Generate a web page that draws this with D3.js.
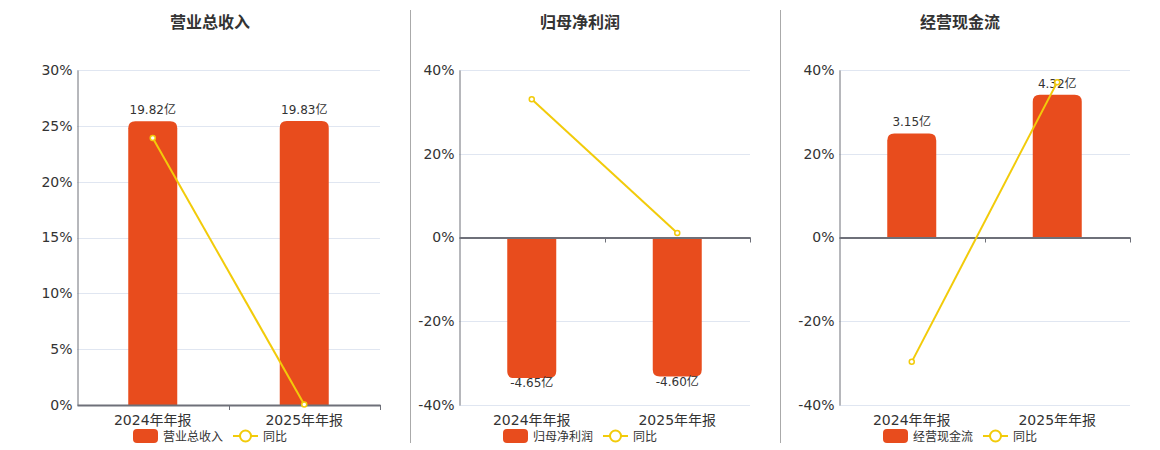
<!DOCTYPE html>
<html>
<head>
<meta charset="utf-8">
<script src="https://cdn.jsdelivr.net/npm/d3@7"></script>
<style>
  body { margin: 0; background: #fff; }
  text { font-family: "DejaVu Sans", "Noto Sans CJK SC", sans-serif; }
</style>
</head>
<body>
<div id="chart-area"></div>
<script>
// data
var categories = ["2024年年报", "2025年年报"];
var titles = ["营业总收入", "归母净利润", "经营现金流"];
var barValues = [[19.82, 19.83], [-4.65, -4.60], [3.15, 4.32]];
var yoyValues = [[23.9, 0.05], [33.0, 1.1], [-29.7, 37.1]];
var pctTicks = [[0, 5, 10, 15, 20, 25, 30], [-40, -20, 0, 20, 40], [-40, -20, 0, 20, 40]];
var barAxisMax = [23.4, 5.54, 5.07];
var lineName = "同比";

var width = 1160;
var height = 450;
var barColor = "#e84c1d";
var lineColor = "#f2cb0a";

// per panel layout
var panels = [
    {cx: 210, left: 77, right: 380},
    {cx: 580, left: 459, right: 750},
    {cx: 960, left: 839, right: 1130}
];
var plotTop = 70, plotBottom = 405;

var svg = d3.select('#chart-area')
    .append('svg')
        .attr('width', width)
        .attr('height', height);

// separators
[410.5, 780.5].forEach(function (x) {
    svg.append("line")
        .attr("x1", x).attr("x2", x)
        .attr("y1", 10).attr("y2", 443)
        .attr("stroke", "#aaa")
        .attr("stroke-width", 1);
});

// path for a bar rounded on the far end from zero
function barPath(x, w, y0, y1, r) {
    var up = y1 < y0;
    var h = Math.abs(y1 - y0);
    r = Math.min(r, h / 2, w / 2);
    var s = up ? 1 : -1;
    return "M" + x + "," + y0 + "V" + (y1 + s * r) +
        "Q" + x + "," + y1 + " " + (x + r) + "," + y1 +
        "H" + (x + w - r) +
        "Q" + (x + w) + "," + y1 + " " + (x + w) + "," + (y1 + s * r) +
        "V" + y0 + "Z";
}

panels.forEach(function (p, i) {
    var g = svg.append("g");
    var ticks = pctTicks[i];
    var ymin = d3.min(ticks), ymax = d3.max(ticks);

    var x = d3.scaleBand()
        .domain(categories)
        .range([p.left, p.right]);

    var y = d3.scaleLinear()
        .domain([ymin, ymax])
        .range([plotBottom, plotTop]);

    var yb = d3.scaleLinear()
        .domain([ymin < 0 ? -barAxisMax[i] : 0, barAxisMax[i]])
        .range([plotBottom, plotTop]);

    // title
    g.append("text")
        .attr("x", p.cx)
        .attr("y", 28)
        .attr("text-anchor", "middle")
        .attr("font-size", "16px")
        .attr("font-weight", "bold")
        .attr("fill", "#333")
        .text(titles[i]);

    // grid
    g.selectAll(".grid").data(ticks).enter()
        .append("line")
        .attr("x1", p.left).attr("x2", p.right)
        .attr("y1", function (d) { return Math.round(y(d)) + 0.5; })
        .attr("y2", function (d) { return Math.round(y(d)) + 0.5; })
        .attr("stroke", "#e0e6f1");

    // y axis
    var yAxis = d3.axisLeft(y)
        .tickValues(ticks)
        .tickSize(0)
        .tickPadding(5)
        .tickFormat(function (d) { return d + "%"; });
    var ya = g.append("g")
        .attr("transform", "translate(" + (p.left + 0.5) + ",0)")
        .call(yAxis);
    ya.select(".domain").attr("stroke", "#6e7079");
    ya.selectAll("text")
        .attr("font-size", "14px")
        .attr("fill", "#333")
        .attr("font-family", "DejaVu Sans, sans-serif");

    // bars
    var bw = 49;
    g.selectAll(".bar").data(barValues[i]).enter()
        .append("path")
        .attr("fill", barColor)
        .attr("d", function (d, j) {
            var bx = x(categories[j]) + x.bandwidth() / 2 - bw / 2;
            return barPath(bx, bw, yb(0), yb(d), 7);
        });

    // bar labels
    g.selectAll(".blabel").data(barValues[i]).enter()
        .append("text")
        .attr("x", function (d, j) { return x(categories[j]) + x.bandwidth() / 2; })
        .attr("y", function (d) { return d >= 0 ? yb(d) - 7 : yb(d) + 9; })
        .attr("text-anchor", "middle")
        .attr("font-size", "12px")
        .attr("fill", "#333")
        .text(function (d) { return d.toFixed(2) + "亿"; });

    // x axis at zero
    var xAxis = d3.axisBottom(x).tickSize(0).tickSizeOuter(0).tickFormat("");
    var xa = g.append("g")
        .attr("transform", "translate(0," + y(0) + ")")
        .call(xAxis);
    xa.select(".domain").attr("stroke", "#6e7079").attr("stroke-width", 2);
    xa.selectAll(".tick").remove();
    // boundary ticks
    var edges = [p.left + (p.right - p.left) / 2, p.right];
    xa.selectAll(".edge").data(edges).enter()
        .append("line")
        .attr("x1", function (d) { return Math.round(d) + 0.5; })
        .attr("x2", function (d) { return Math.round(d) + 0.5; })
        .attr("y1", 0).attr("y2", 5)
        .attr("stroke", "#6e7079");

    // category labels
    g.selectAll(".xlabel").data(categories).enter()
        .append("text")
        .attr("x", function (d) { return x(d) + x.bandwidth() / 2; })
        .attr("y", 425)
        .attr("text-anchor", "middle")
        .attr("font-size", "14px")
        .attr("fill", "#333")
        .text(function (d) { return d; });

    // yoy line
    var line = d3.line()
        .x(function (d, j) { return x(categories[j]) + x.bandwidth() / 2; })
        .y(function (d) { return y(d); });
    g.append("path")
        .datum(yoyValues[i])
        .attr("d", line)
        .attr("fill", "none")
        .attr("stroke", lineColor)
        .attr("stroke-width", 2);
    g.selectAll(".pt").data(yoyValues[i]).enter()
        .append("circle")
        .attr("cx", function (d, j) { return x(categories[j]) + x.bandwidth() / 2; })
        .attr("cy", function (d) { return y(d); })
        .attr("r", 2.5)
        .attr("fill", "#fff")
        .attr("stroke", lineColor)
        .attr("stroke-width", 1.5);

    // legend
    var lx = p.cx - 77;
    var lg = g.append("g").attr("transform", "translate(" + lx + ",429)");
    lg.append("rect")
        .attr("x", 0).attr("y", 0)
        .attr("width", 25).attr("height", 14)
        .attr("rx", 4)
        .attr("fill", barColor);
    lg.append("text")
        .attr("x", 30).attr("y", 11.5)
        .attr("font-size", "12px")
        .attr("fill", "#333")
        .text(titles[i]);
    lg.append("line")
        .attr("x1", 100).attr("x2", 125)
        .attr("y1", 7).attr("y2", 7)
        .attr("stroke", lineColor)
        .attr("stroke-width", 2);
    lg.append("circle")
        .attr("cx", 112.5).attr("cy", 7)
        .attr("r", 5.5)
        .attr("fill", "#fff")
        .attr("stroke", lineColor)
        .attr("stroke-width", 2);
    lg.append("text")
        .attr("x", 130).attr("y", 11.5)
        .attr("font-size", "12px")
        .attr("fill", "#333")
        .text(lineName);
});
</script>
</body>
</html>
